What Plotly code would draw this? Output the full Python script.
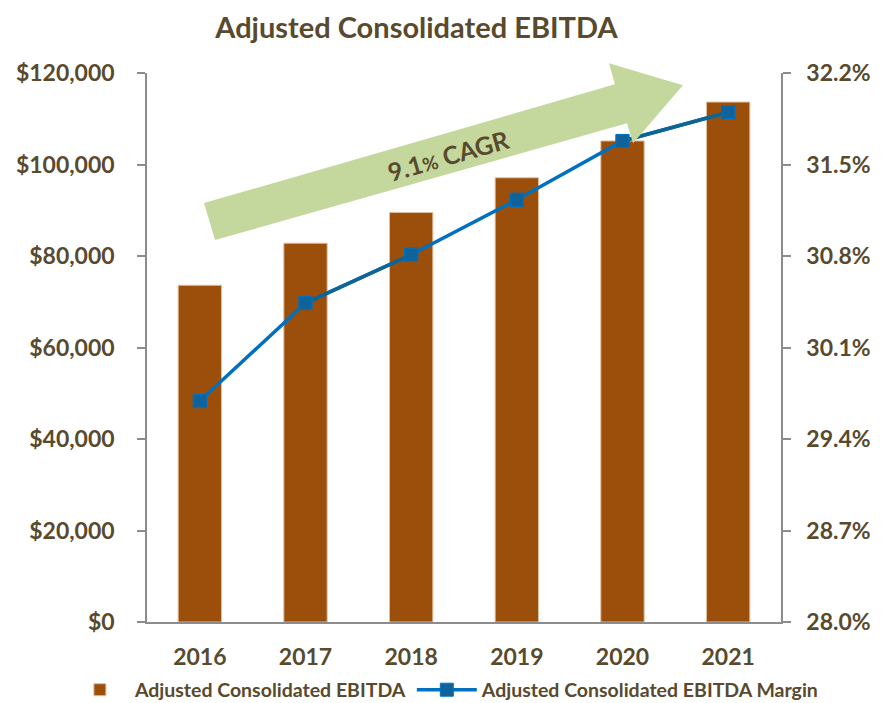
import plotly.graph_objects as go

years = ["2016", "2017", "2018", "2019", "2020", "2021"]
ebitda = [73600, 82800, 89500, 97100, 105150, 113650]
margin_pct = [29.69, 30.44, 30.81, 31.23, 31.68, 31.90]
cagr_label = "9.1<span style='font-size:19px'>%</span> CAGR"

TXT = "#594A2E"
FONT = "Lato"
BAR = "#9C4E0B"
LINE = "#0070C0"
LINE_DARK = "#0E6494"
MARK = "#10639A"
GREEN = "#C4D89E"
AXIS = "#8C8C8C"

fig = go.Figure()
fig.add_trace(go.Bar(
    x=years, y=ebitda, name="Adjusted Consolidated EBITDA",
    marker=dict(color=BAR, line=dict(color="#E2BE9C", width=1)),
    yaxis="y",
))
fig.add_trace(go.Scatter(
    x=years, y=margin_pct, name="Adjusted Consolidated EBITDA Margin",
    mode="lines+markers", yaxis="y2",
    line=dict(color=LINE, width=3.5),
    marker=dict(symbol="square", size=13, color=MARK, line=dict(color=LINE, width=1)),
))
# darker segments
for i0 in (1, 4):
    fig.add_trace(go.Scatter(
        x=years[i0:i0 + 2], y=margin_pct[i0:i0 + 2], mode="lines", yaxis="y2",
        line=dict(color=LINE_DARK, width=3.5), showlegend=False, hoverinfo="skip",
    ))
fig.add_trace(go.Scatter(
    x=years, y=margin_pct, mode="markers", yaxis="y2", showlegend=False, hoverinfo="skip",
    marker=dict(symbol="square", size=13, color=MARK, line=dict(color=LINE, width=1)),
))

arrow = [(0.0899, 0.763), (0.738, 0.9794), (0.7287, 1.0177), (0.8454, 0.9776),
         (0.7666, 0.8721), (0.7571, 0.9085), (0.1073, 0.6956)]
path = "M " + " L ".join(f"{x},{y}" for x, y in arrow) + " Z"

# page body has an 8px default margin, so the figure is sized to the visible area
fig.update_layout(
    width=886, height=695,
    margin=dict(l=139, r=113, t=65, b=81, autoexpand=False),
    paper_bgcolor="white", plot_bgcolor="white",
    font=dict(family=FONT, color=TXT, size=20),
    title=dict(text="<b>Adjusted Consolidated EBITDA</b>", x=0.461, xanchor="center",
               y=0.972, yanchor="middle", font=dict(size=29, color=TXT, family=FONT)),
    bargap=0.59,
    showlegend=True,
    legend=dict(orientation="h", x=-0.1295, xanchor="left", y=-0.1239, yanchor="middle",
                bgcolor="rgba(0,0,0,0)",
                font=dict(size=19.5, color=TXT, family=FONT, weight="bold"),
                itemwidth=60, tracegroupgap=0),
    xaxis=dict(showline=True, linecolor=AXIS, linewidth=1.5, ticks="", automargin=False,
               tickfont=dict(size=23, weight="bold", color=TXT), ticklabelstandoff=14),
    yaxis=dict(range=[0, 120000], dtick=20000, tickprefix="$", tickformat=",",
               showgrid=False, zeroline=False, showline=True, linecolor=AXIS, linewidth=1.5,
               ticks="outside", ticklen=8, tickcolor=AXIS, tickwidth=1.5, automargin=False,
               tickfont=dict(size=23, weight="bold", color=TXT), ticklabelstandoff=18),
    yaxis2=dict(range=[28.0, 32.2], dtick=0.7, tick0=28.0, ticksuffix="%", tickformat=".1f",
                overlaying="y", side="right", showgrid=False, zeroline=False,
                showline=True, linecolor=AXIS, linewidth=1.5, automargin=False,
                ticks="outside", ticklen=8, tickcolor=AXIS, tickwidth=1.5,
                tickfont=dict(size=23, weight="bold", color=TXT), ticklabelstandoff=11),
    shapes=[dict(type="path", path=path, xref="paper", yref="paper",
                 fillcolor=GREEN, line=dict(width=0), layer="above")],
    annotations=[dict(text=f"<b>{cagr_label}</b>", x=0.476, y=0.850, xref="paper", yref="paper",
                      xanchor="center", yanchor="middle",
                      showarrow=False, textangle=-16, font=dict(size=25, color=TXT, family=FONT))],
)

fig.write_html("out.html")
